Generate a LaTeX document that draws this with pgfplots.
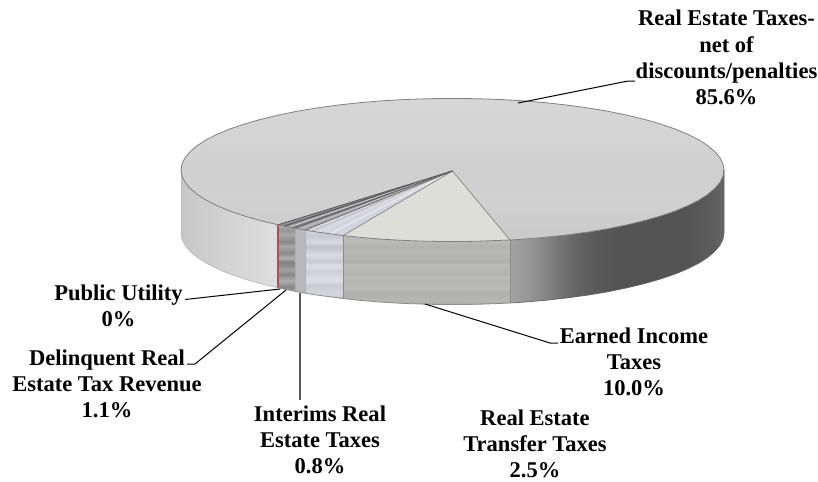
\documentclass[border=0pt]{standalone}
\usepackage{pgfplots}
\pgfplotsset{compat=1.18}
\usepackage{fontspec}
\setmainfont{Liberation Serif}

% Shadings: the central band 25bp..75bp spans the bounding box of the shaded path.
\pgfdeclareverticalshading{topface}{100bp}{
  rgb(0bp)=(.81,.81,.81); rgb(25bp)=(.79,.79,.79); rgb(40bp)=(.82,.82,.82);
  rgb(50bp)=(.81,.81,.81); rgb(60bp)=(.83,.83,.83); rgb(75bp)=(.84,.84,.84); rgb(100bp)=(.84,.84,.84)}
\pgfdeclarehorizontalshading{leftside}{100bp}{
  rgb(0bp)=(.78,.78,.78); rgb(25bp)=(.78,.78,.78); rgb(50bp)=(.83,.83,.83);
  rgb(75bp)=(.87,.87,.87); rgb(100bp)=(.87,.87,.87)}
\pgfdeclarehorizontalshading{rightside}{100bp}{
  rgb(0bp)=(.64,.64,.64); rgb(25bp)=(.64,.64,.64); rgb(30bp)=(.58,.58,.58);
  rgb(35bp)=(.49,.49,.49); rgb(40bp)=(.40,.40,.40); rgb(45bp)=(.35,.35,.35);
  rgb(50bp)=(.33,.33,.33); rgb(66bp)=(.33,.33,.33); rgb(72bp)=(.36,.36,.36);
  rgb(75bp)=(.40,.40,.40); rgb(100bp)=(.40,.40,.40)}
\pgfdeclareverticalshading{earnedside}{100bp}{
  rgb(0bp)=(.70,.70,.69); rgb(25bp)=(.68,.68,.67); rgb(28bp)=(.71,.71,.70);
  rgb(34bp)=(.69,.69,.68); rgb(36bp)=(.73,.73,.72); rgb(42bp)=(.71,.71,.70);
  rgb(45bp)=(.74,.74,.73); rgb(47bp)=(.70,.70,.69); rgb(54bp)=(.73,.73,.72);
  rgb(56bp)=(.69,.69,.68); rgb(63bp)=(.72,.72,.71); rgb(67bp)=(.70,.70,.69);
  rgb(71bp)=(.73,.73,.72); rgb(75bp)=(.72,.72,.71); rgb(100bp)=(.72,.72,.71)}
\pgfdeclareverticalshading{interimside}{100bp}{
  rgb(0bp)=(.78,.78,.80); rgb(25bp)=(.74,.74,.76); rgb(28bp)=(.84,.84,.87);
  rgb(35bp)=(.79,.79,.82); rgb(38bp)=(.87,.87,.90); rgb(45bp)=(.81,.81,.84);
  rgb(49bp)=(.88,.88,.91); rgb(52bp)=(.78,.78,.81); rgb(57bp)=(.86,.86,.89);
  rgb(63bp)=(.75,.75,.78); rgb(66bp)=(.85,.85,.88); rgb(71bp)=(.78,.78,.81);
  rgb(75bp)=(.83,.83,.86); rgb(100bp)=(.83,.83,.86)}
\pgfdeclareverticalshading{delinqside}{100bp}{
  rgb(0bp)=(.60,.60,.60); rgb(25bp)=(.68,.68,.68); rgb(28bp)=(.52,.52,.52);
  rgb(33bp)=(.68,.68,.68); rgb(38bp)=(.52,.52,.52); rgb(41bp)=(.64,.64,.64);
  rgb(47bp)=(.50,.50,.50); rgb(50bp)=(.68,.68,.68); rgb(54bp)=(.54,.54,.54);
  rgb(59bp)=(.66,.66,.66); rgb(62bp)=(.53,.53,.53); rgb(68bp)=(.66,.66,.66);
  rgb(71bp)=(.58,.58,.58); rgb(75bp)=(.70,.70,.70); rgb(100bp)=(.70,.70,.70)}

\definecolor{edge}{gray}{.50}
\definecolor{rim}{gray}{.55}
\definecolor{cutline}{rgb}{.66,.32,.34}
\definecolor{speckle}{rgb}{.87,.87,.85}
\definecolor{interim}{rgb}{.83,.83,.87}
\definecolor{interimwall}{rgb}{.72,.72,.74}
\definecolor{transfer}{rgb}{.66,.66,.69}
\definecolor{delinq}{rgb}{.58,.58,.60}

\tikzset{lab/.style={font=\fontsize{16.9}{19.6}\selectfont\bfseries, align=center, inner sep=0pt, anchor=center}}

\begin{document}
\begin{tikzpicture}
\begin{axis}[
  scale only axis, width=613.5pt, height=361.5pt,
  xmin=0, xmax=818, ymin=0, ymax=482, y dir=reverse,
  hide axis, clip=false,
  every axis plot/.append style={line join=round},
]
% page background
\addplot[draw=none, fill=white] coordinates {(0,0)(818,0)(818,482)(0,482)} --cycle;

% ---- side wall, left of the cut-out ----
\addplot[draw=none, shade, shading=leftside] coordinates {
 (278.0,224.8)(260.5,220.6)(244.5,216.0)(230.1,211.1)(217.4,205.8)(206.4,200.3)(197.4,194.5)
 (190.3,188.5)(185.1,182.4)(182.0,176.2)(181.0,170.0)
 (181.0,233.0)(182.0,239.2)(185.1,245.4)(190.3,251.5)(197.4,257.5)(206.4,263.3)(217.4,268.8)
 (230.1,274.1)(244.5,279.0)(260.5,283.6)(278.0,287.8)} --cycle;

% ---- side wall of the small slices ----
\addplot[draw=none, shade, shading=delinqside] coordinates {
 (278.0,224.8)(295.0,228.3)(295.0,291.3)(278.0,287.8)} --cycle;
\addplot[draw=none, fill=interimwall] coordinates {
 (295.0,228.3)(305.0,230.1)(305.0,293.1)(295.0,291.3)} --cycle;
\addplot[draw=none, shade, shading=interimside] coordinates {
 (305.0,230.1)(316.7,232.0)(337.8,234.9)(343.0,235.5)
 (343.0,298.5)(337.8,297.9)(316.7,295.0)(305.0,293.1)} --cycle;
\addplot[draw=none, shade, shading=earnedside] coordinates {
 (343.0,235.5)(359.6,237.3)(382.2,239.2)(405.4,240.5)(428.8,241.3)(452.5,241.6)(476.2,241.3)(499.6,240.5)(510.0,240.0)
 (510.0,303.0)(499.6,303.5)(476.2,304.3)(452.5,304.6)(428.8,304.3)(405.4,303.5)(382.2,302.2)(359.6,300.3)(343.0,298.5)} --cycle;

% ---- side wall, dark right part ----
\addplot[draw=none, shade, shading=rightside] coordinates {
 (510.0,240.0)(522.8,239.2)(545.4,237.3)(567.2,234.9)(588.3,232.0)(608.2,228.7)(627.0,224.8)(644.5,220.6)
 (660.5,216.0)(674.9,211.1)(687.6,205.8)(698.6,200.3)(707.6,194.5)(714.7,188.5)(719.9,182.4)(723.0,176.2)(724.0,170.0)
 (724.0,233.0)(723.0,239.2)(719.9,245.4)(714.7,251.5)(707.6,257.5)(698.6,263.3)(687.6,268.8)(674.9,274.1)
 (660.5,279.0)(644.5,283.6)(627.0,287.8)(608.2,291.7)(588.3,295.0)(567.2,297.9)(545.4,300.3)(522.8,302.2)(510.0,303.0)} --cycle;

% ---- top face: largest slice ----
\addplot[draw=none, shade, shading=topface] coordinates {
 (452.5,171.0)(510.0,240.0)(522.8,239.2)(545.4,237.3)(567.2,234.9)(588.3,232.0)(608.2,228.7)(627.0,224.8)(644.5,220.6)
 (660.5,216.0)(674.9,211.1)(687.6,205.8)(698.6,200.3)(707.6,194.5)(714.7,188.5)(719.9,182.4)(723.0,176.2)(724.0,170.0)
 (723.0,163.8)(719.9,157.6)(714.7,151.5)(707.6,145.5)(698.6,139.7)(687.6,134.2)(674.9,128.9)(660.5,124.0)
 (644.5,119.4)(627.0,115.2)(608.2,111.3)(588.3,108.0)(567.2,105.1)(545.4,102.7)(522.8,100.8)(499.6,99.5)
 (476.2,98.7)(452.5,98.4)(428.8,98.7)(405.4,99.5)(382.2,100.8)(359.6,102.7)(337.8,105.1)(316.7,108.0)
 (296.8,111.3)(278.0,115.2)(260.5,119.4)(244.5,124.0)(230.1,128.9)(217.4,134.2)(206.4,139.7)(197.4,145.5)
 (190.3,151.5)(185.1,157.6)(182.0,163.8)(181.0,170.0)(182.0,176.2)(185.1,182.4)(190.3,188.5)(197.4,194.5)
 (206.4,200.3)(217.4,205.8)(230.1,211.1)(244.5,216.0)(260.5,220.6)(278.0,224.8)} --cycle;

% ---- top face: small slices ----
\addplot[draw=none, fill=speckle] coordinates {
 (452.5,171.0)(343.0,235.5)(359.6,237.3)(382.2,239.2)(405.4,240.5)(428.8,241.3)(452.5,241.6)(476.2,241.3)(499.6,240.5)(510.0,240.0)} --cycle;
\addplot[draw=none, fill=interim] coordinates {
 (452.5,171.0)(305.0,230.1)(316.7,232.0)(337.8,234.9)(343.0,235.5)} --cycle;
\addplot[draw=none, fill=transfer] coordinates {
 (452.5,171.0)(295.0,228.3)(305.0,230.1)} --cycle;
\addplot[draw=none, fill=delinq] coordinates {
 (452.5,171.0)(278.0,224.8)(295.0,228.3)} --cycle;

% radial streaks in the small slices
\addplot[gray!70!black, line width=.8pt] coordinates {(452.5,171.0)(284.0,226.0)};
\addplot[gray!35, line width=.6pt] coordinates {(452.5,171.0)(289.0,227.1)};
\addplot[gray!80!black, line width=.6pt] coordinates {(452.5,171.0)(293.0,227.9)};
\addplot[gray!50, line width=.7pt] coordinates {(452.5,171.0)(300.0,229.2)};
\addplot[white!75!gray, line width=.7pt] coordinates {(452.5,171.0)(318.0,232.2)};
\addplot[gray!55, line width=.5pt] coordinates {(452.5,171.0)(312.0,231.2)};
\addplot[white!85!gray, line width=.8pt] coordinates {(452.5,171.0)(330.0,233.9)};

% slice borders on the top face
\addplot[rim, line width=.6pt] coordinates {(452.5,171.0)(343.0,235.5)};
\addplot[rim, line width=.6pt] coordinates {(452.5,171.0)(510.0,240.0)};
\addplot[rim!70!black, line width=.5pt] coordinates {(452.5,171.0)(305.0,230.1)};
\addplot[rim!70!black, line width=.5pt] coordinates {(452.5,171.0)(295.0,228.3)};
\addplot[rim!60!black, line width=.6pt] coordinates {(452.5,171.0)(278.0,224.8)};

% vertical borders on the wall
\addplot[rim!70!white, line width=.5pt] coordinates {(295.0,228.3)(295.0,291.3)};
\addplot[rim!70!white, line width=.5pt] coordinates {(305.0,230.1)(305.0,293.1)};
\addplot[rim, line width=.7pt] coordinates {(343.0,235.5)(343.0,298.5)};
\addplot[rim, line width=.7pt] coordinates {(510.0,240.0)(510.0,303.0)};
\addplot[rim!55!white, line width=.5pt] coordinates {(181.0,170.0)(181.0,233.0)};
\addplot[cutline, line width=.8pt] coordinates {(278.0,224.8)(278.0,287.8)};

% outline of the top face
\addplot[edge, line width=.6pt] coordinates {
 (278.0,224.8)(260.5,220.6)(244.5,216.0)(230.1,211.1)(217.4,205.8)(206.4,200.3)(197.4,194.5)(190.3,188.5)
 (185.1,182.4)(182.0,176.2)(181.0,170.0)(182.0,163.8)(185.1,157.6)(190.3,151.5)(197.4,145.5)(206.4,139.7)
 (217.4,134.2)(230.1,128.9)(244.5,124.0)(260.5,119.4)(278.0,115.2)(296.8,111.3)(316.7,108.0)(337.8,105.1)
 (359.6,102.7)(382.2,100.8)(405.4,99.5)(428.8,98.7)(452.5,98.4)(476.2,98.7)(499.6,99.5)(522.8,100.8)
 (545.4,102.7)(567.2,105.1)(588.3,108.0)(608.2,111.3)(627.0,115.2)(644.5,119.4)(660.5,124.0)(674.9,128.9)
 (687.6,134.2)(698.6,139.7)(707.6,145.5)(714.7,151.5)(719.9,157.6)(723.0,163.8)(724.0,170.0)(723.0,176.2)
 (719.9,182.4)(714.7,188.5)(707.6,194.5)(698.6,200.3)(687.6,205.8)(674.9,211.1)(660.5,216.0)(644.5,220.6)
 (627.0,224.8)(608.2,228.7)(588.3,232.0)(567.2,234.9)(545.4,237.3)(522.8,239.2)(510.0,240.0)(476.2,241.3)
 (452.5,241.6)(428.8,241.3)(405.4,240.5)(382.2,239.2)(359.6,237.3)(343.0,235.5)(316.7,232.0)(295.0,228.3)(278.0,224.8)};

% soft lower edge of the wall: faint on the left, firm under the slices, dark on the right
\addplot[black!28, line width=.5pt] coordinates {
 (181.0,233.0)(182.0,239.2)(185.1,245.4)(190.3,251.5)(197.4,257.5)(206.4,263.3)(217.4,268.8)(230.1,274.1)
 (244.5,279.0)(260.5,283.6)(278.0,287.8)};
\addplot[rim, line width=.6pt] coordinates {
 (278.0,287.8)(295.0,291.3)(305.0,293.1)(316.7,295.0)(343.0,298.5)(359.6,300.3)
 (382.2,302.2)(405.4,303.5)(428.8,304.3)(452.5,304.6)(476.2,304.3)(499.6,303.5)(510.0,303.0)};
\addplot[black!62, line width=.5pt] coordinates {
 (510.0,303.0)(522.8,302.2)(545.4,300.3)(567.2,297.9)(588.3,295.0)(608.2,291.7)(627.0,287.8)(644.5,283.6)(660.5,279.0)(674.9,274.1)
 (687.6,268.8)(698.6,263.3)(707.6,257.5)(714.7,251.5)(719.9,245.4)(723.0,239.2)(724.0,233.0)(724.0,170.0)};

% leader lines
\addplot[black, line width=.75pt] coordinates {(518,103)(628,81)(635,81)};
\addplot[black, line width=.75pt] coordinates {(185,299.5)(280,289)};
\addplot[black, line width=.75pt] coordinates {(187,364)(195,364)(286,290)};
\addplot[black!65, line width=.9pt] coordinates {(300,293)(300,400)};
\addplot[black, line width=.75pt] coordinates {(425,304)(550,343)(558,343)};

% labels
\node[lab] at (axis cs:726.5,57.5) {Real Estate Taxes-\\net of\\discounts/penalties\\85.6\%};
\node[lab] at (axis cs:118.5,305.5) {Public Utility\\0\%};
\node[lab] at (axis cs:107,383.5) {Delinquent Real\\Estate Tax Revenue\\1.1\%};
\node[lab] at (axis cs:320,440) {Interims Real\\Estate Taxes\\0.8\%};
\node[lab] at (axis cs:634,361.5) {Earned Income\\Taxes\\10.0\%};
\node[lab] at (axis cs:535,444) {Real Estate\\Transfer Taxes\\2.5\%};
\end{axis}
\end{tikzpicture}
\end{document}
